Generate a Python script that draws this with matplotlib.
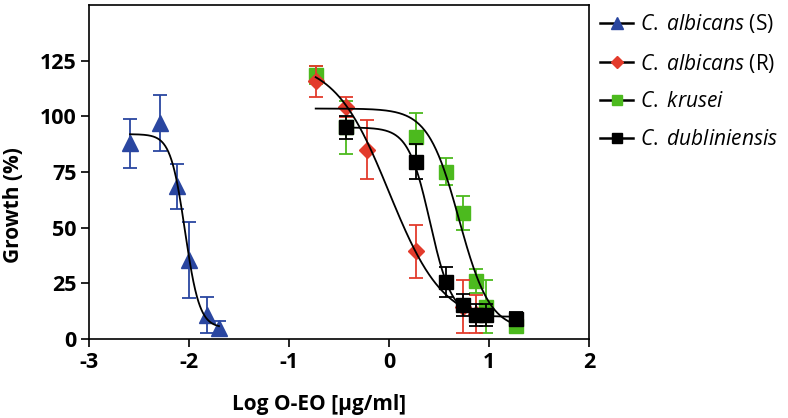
import numpy as np
import matplotlib
matplotlib.use("Agg")
import matplotlib.pyplot as plt
from matplotlib.lines import Line2D

plt.rcParams["font.family"] = ["Open Sans", "DejaVu Sans"]
plt.rcParams["mathtext.fontset"] = "custom"
plt.rcParams["mathtext.it"] = "Open Sans:italic"
plt.rcParams["mathtext.rm"] = "Open Sans"
plt.rcParams["axes.unicode_minus"] = False

# log concentration [ug/ml], mean growth (%), SD
x_alb_s = [-2.59, -2.29, -2.12, -2.0, -1.82, -1.70]
y_alb_s = [88, 97, 68.5, 35.5, 10.8, 4.8]
e_alb_s = [11, 12.7, 10, 17, 8, 3.5]

x_alb_r = [-0.733, -0.432, -0.222, 0.267, 0.744, 0.869]
y_alb_r = [115.7, 104.2, 85, 39.3, 14.5, 11.2]
e_alb_r = [7, 4.5, 13.3, 12, 12, 8.6]

x_krus = [-0.733, -0.432, 0.267, 0.568, 0.744, 0.869, 0.966, 1.267]
y_krus = [118.7, 95, 90.7, 75.2, 56.5, 26, 14.5, 5.8]
e_krus = [4, 12, 11, 6, 7.5, 5.5, 12, 2]

x_dubl = [-0.432, 0.267, 0.568, 0.744, 0.869, 0.966, 1.267]
y_dubl = [95, 79.7, 25.5, 15.3, 10.8, 10.8, 9.0]
e_dubl = [5, 8, 6.7, 5, 5, 5, 3]

# fitted 4PL parameters: top, bottom, logIC50, hill
fit_alb_s = (92, 5, -2.04, 6.0)
fit_alb_r = (125, 7, 0.0, 1.6)
fit_krus = (103.5, 4, 0.70, 2.8)
fit_dubl = (95, 10, 0.41, 4.0)

labels = [r"$\it{C.}$ $\it{albicans}$ (S)", r"$\it{C.}$ $\it{albicans}$ (R)",
          r"$\it{C.}$ $\it{krusei}$", r"$\it{C.}$ $\it{dubliniensis}$"]

BLUE = "#2a46a0"
RED = "#e33b2c"
GREEN = "#4cba1e"
BLACK = "#000000"


def logistic(x, p):
    top, bottom, ic50, hill = p
    return bottom + (top - bottom) / (1 + 10 ** (hill * (x - ic50)))


fig = plt.figure(figsize=(7.88, 4.18), dpi=100)
ax = fig.add_axes([89 / 788, 1 - 339 / 418, 500 / 788, 334 / 418])

series = [
    (x_alb_s, y_alb_s, e_alb_s, fit_alb_s, BLUE, "^", 11.5, 3),
    (x_krus, y_krus, e_krus, fit_krus, GREEN, "s", 10, 3),
    (x_alb_r, y_alb_r, e_alb_r, fit_alb_r, RED, "D", 8, 4),
    (x_dubl, y_dubl, e_dubl, fit_dubl, BLACK, "s", 10, 5),
]
for xs, ys, es, fit, col, mk, ms, z in series:
    ax.errorbar(xs, ys, yerr=es, fmt=mk, color=col, ms=ms, mec=col,
                elinewidth=1.3, capsize=5, capthick=1.3, zorder=z)
    xx = np.linspace(min(xs), max(xs), 300)
    ax.plot(xx, logistic(xx, fit), color="black", lw=1.3, zorder=6)

ax.set_xlim(-3, 2)
ax.set_ylim(0, 150)
ax.set_xticks([-3, -2, -1, 0, 1, 2])
ax.set_yticks([0, 25, 50, 75, 100, 125])
for s in ax.spines.values():
    s.set_linewidth(1.2)
ax.tick_params(direction="out", length=6, width=1.2, labelsize=15.5, pad=3)
for t in ax.get_xticklabels() + ax.get_yticklabels():
    t.set_fontweight("bold")

ax.set_xlabel("Log O-EO [µg/ml]", fontsize=15, fontweight="bold")
ax.set_ylabel("Growth (%)", fontsize=15, fontweight="bold")
ax.xaxis.set_label_coords(0.46, -0.165)
ax.yaxis.set_label_coords(-0.13, 0.40)

handles = []
for col, mk, ms in [(BLUE, "^", 8), (RED, "D", 6.5), (GREEN, "s", 7.5), (BLACK, "s", 7.5)]:
    handles.append(Line2D([0], [0], color="black", lw=1.8, marker=mk, ms=ms,
                          mfc=col, mec=col))
fig.legend(handles=handles, labels=labels, loc="upper left",
           bbox_to_anchor=(600 / 788, 1 - 12 / 418), frameon=False,
           fontsize=15, handlelength=1.6, handletextpad=0.3,
           labelspacing=0.8, borderpad=0, borderaxespad=0)

fig.savefig("out.png", dpi=100)
